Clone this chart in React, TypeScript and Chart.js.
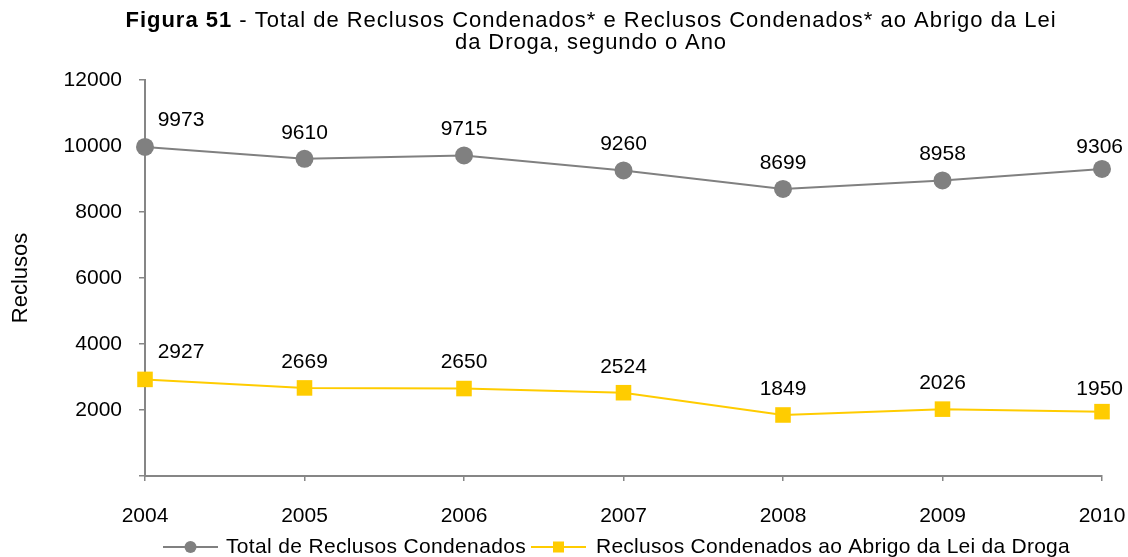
import React, { useEffect, useRef } from "react";
import { Chart, registerables } from "chart.js";

Chart.register(...registerables);

const years = ["2004", "2005", "2006", "2007", "2008", "2009", "2010"];
const totalCondenados = [9973, 9610, 9715, 9260, 8699, 8958, 9306];
const condenadosDroga = [2927, 2669, 2650, 2524, 1849, 2026, 1950];
const seriesNames = ["Total de Reclusos Condenados", "Reclusos Condenados ao Abrigo da Lei da Droga"];
const titleBold = "Figura 51";
const titleRest1 = " - Total de Reclusos Condenados* e Reclusos Condenados* ao Abrigo da Lei";
const titleLine2 = "da Droga, segundo o Ano";
const yAxisTitle = "Reclusos";

const FONT = "'Liberation Sans', Arial, sans-serif";
const GRAY = "#808080";
const YELLOW = "#FFCC00";
const AXIS = "#868686";
const FS = 21;
const TFS = 22;

function setSpacing(ctx: any, px: number) {
  if ("letterSpacing" in ctx) ctx.letterSpacing = `${px}px`;
}

const textPlugin = {
  id: "textPlugin",
  afterDraw(chart: any) {
    const ctx = chart.ctx;
    ctx.save();
    // Title
    ctx.fillStyle = "#000";
    ctx.textBaseline = "middle";
    ctx.textAlign = "left";
    setSpacing(ctx, 0);
    ctx.font = `bold ${TFS}px ${FONT}`;
    const wb0 = ctx.measureText(titleBold).width;
    ctx.font = `${TFS}px ${FONT}`;
    const wr0 = ctx.measureText(titleRest1).width;
    const targetW = 931;
    const nChars = titleBold.length + titleRest1.length;
    const sp = Math.max(0, (targetW - wb0 - wr0) / nChars);
    setSpacing(ctx, sp);
    ctx.font = `bold ${TFS}px ${FONT}`;
    const wb = ctx.measureText(titleBold).width;
    ctx.font = `${TFS}px ${FONT}`;
    const wr = ctx.measureText(titleRest1).width;
    const cx = 591;
    const x0 = cx - (wb + wr) / 2;
    ctx.font = `bold ${TFS}px ${FONT}`;
    ctx.fillText(titleBold, x0, 21);
    ctx.font = `${TFS}px ${FONT}`;
    ctx.fillText(titleRest1, x0 + wb, 21);
    setSpacing(ctx, 0);
    const w20 = ctx.measureText(titleLine2).width;
    setSpacing(ctx, Math.max(0, (272 - w20) / titleLine2.length));
    const w2 = ctx.measureText(titleLine2).width;
    ctx.fillText(titleLine2, cx - w2 / 2, 43);

    // Data labels
    setSpacing(ctx, 0);
    ctx.font = `${FS}px ${FONT}`;
    ctx.fillStyle = "#000";
    chart.data.datasets.forEach((ds: any, di: number) => {
      const meta = chart.getDatasetMeta(di);
      meta.data.forEach((pt: any, i: number) => {
        const label = String(ds.data[i]);
        let x = pt.x;
        let y = pt.y - 26;
        ctx.textAlign = "center";
        if (i === 0) {
          x = pt.x + 36;
          y = pt.y - 27;
        } else if (i === meta.data.length - 1) {
          ctx.textAlign = "right";
          x = chart.width - 5;
          y = pt.y - 22;
        }
        ctx.fillText(label, x, y);
      });
    });

    // Legend
    const ly = 547;
    ctx.textAlign = "left";
    const items = [
      { name: seriesNames[0], color: GRAY, shape: "circle", x: 163, textX: 226, textW: 300 },
      { name: seriesNames[1], color: YELLOW, shape: "square", x: 531, textX: 596, textW: 474 },
    ];
    items.forEach((it) => {
      ctx.strokeStyle = it.color;
      ctx.lineWidth = 2;
      ctx.beginPath();
      ctx.moveTo(it.x, ly);
      ctx.lineTo(it.x + 55, ly);
      ctx.stroke();
      ctx.fillStyle = it.color;
      if (it.shape === "circle") {
        ctx.beginPath();
        ctx.arc(it.x + 27.5, ly, 6, 0, Math.PI * 2);
        ctx.fill();
      } else {
        ctx.fillRect(it.x + 27.5 - 5.5, ly - 5.5, 11, 11);
      }
      ctx.fillStyle = "#000";
      ctx.font = `${FS}px ${FONT}`;
      setSpacing(ctx, 0);
      const w0 = ctx.measureText(it.name).width;
      setSpacing(ctx, Math.max(0, (it.textW - w0) / it.name.length));
      ctx.fillText(it.name, it.textX, ly);
      setSpacing(ctx, 0);
    });
    ctx.restore();
  },
};

export default function App() {
  const ref = useRef<HTMLCanvasElement>(null);
  useEffect(() => {
    document.body.style.margin = "0";
    const chart = new Chart(ref.current!, {
      type: "line",
      data: {
        labels: years,
        datasets: [
          {
            label: seriesNames[0],
            data: totalCondenados,
            borderColor: GRAY,
            backgroundColor: GRAY,
            borderWidth: 2,
            pointStyle: "circle",
            pointRadius: 9,
            pointHoverRadius: 9,
            pointBorderWidth: 0,
            tension: 0,
          },
          {
            label: seriesNames[1],
            data: condenadosDroga,
            borderColor: YELLOW,
            backgroundColor: YELLOW,
            borderWidth: 2,
            pointStyle: "rect",
            pointRadius: 11,
            pointHoverRadius: 11,
            pointBorderWidth: 0,
            tension: 0,
          },
        ],
      },
      options: {
        animation: false,
        responsive: false,
        events: [],
        layout: { padding: { top: 80, right: 26, left: 0, bottom: 0 } },
        plugins: {
          legend: { display: false },
          title: { display: false },
          tooltip: { enabled: false },
        },
        scales: {
          x: {
            offset: false,
            border: { color: AXIS, width: 2 },
            grid: { display: true, drawOnChartArea: false, drawTicks: true, tickLength: 5, color: AXIS, lineWidth: 1.5 },
            ticks: { color: "#000", font: { family: FONT, size: FS }, padding: 23, maxRotation: 0 },
            afterFit(s: any) {
              s.height = 81;
              s.paddingLeft = 0;
              s.paddingRight = 0;
            },
          },
          y: {
            min: 0,
            max: 12000,
            border: { color: AXIS, width: 2 },
            grid: { display: true, drawOnChartArea: false, drawTicks: true, tickLength: 6, color: AXIS, lineWidth: 1.5 },
            ticks: {
              stepSize: 2000,
              color: "#000",
              font: { family: FONT, size: FS },
              padding: 17,
              callback: (v: any) => (v === 0 ? "" : String(v)),
            },
            title: { display: true, text: yAxisTitle, color: "#000", font: { family: FONT, size: 22 }, padding: { top: 8, bottom: 0 } },
            afterFit(s: any) {
              s.width = 145;
              s.paddingTop = 0;
              s.paddingBottom = 0;
            },
          },
        },
      },
      plugins: [textPlugin],
    });
    return () => chart.destroy();
  }, []);
  return (
    <div style={{ position: "absolute", left: 0, top: 0, width: 1128, height: 557 }}>
      <canvas ref={ref} width={1128} height={557} style={{ width: 1128, height: 557 }} />
    </div>
  );
}
